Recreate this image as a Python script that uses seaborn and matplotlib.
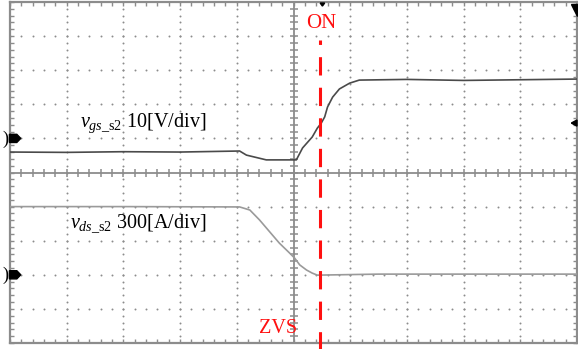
import numpy as np
import pandas as pd
import matplotlib
matplotlib.use("Agg")
import matplotlib.pyplot as plt
from matplotlib.patches import Polygon
import seaborn as sns

# Gate-source voltage of S2 (V) versus time (divisions)
t_gs = [0.00, 1.00, 2.00, 3.00, 4.05, 4.17, 4.37, 4.52, 5.05, 5.16, 5.33, 5.42,
        5.49, 5.55, 5.60, 5.69, 5.81, 5.99, 6.16, 7.00, 8.00, 9.00, 10.00]
v_gs = [-4.0, -4.1, -3.9, -4.0, -3.7, -4.9, -5.7, -6.3, -6.3, -2.8, 0.4, 3.0,
        4.5, 6.3, 9.2, 12.1, 14.5, 16.2, 17.1, 17.3, 17.0, 17.2, 17.4]

# Drain-source voltage of S2 (V) versus time (divisions)
t_ds = [0.00, 2.00, 4.05, 4.23, 4.40, 4.58, 4.75, 4.93, 5.02, 5.11, 5.23, 5.33,
        5.42, 6.50, 8.00, 10.00]
v_ds = [600, 600, 597, 570, 483, 378, 279, 192, 147, 87, 42, 15, -3, 6, 6, 6]

# Channel settings: volts per division and ground level (division)
gs_scale, gs_ground = 10.0, 6.0
ds_scale, ds_ground = 300.0, 2.0

t_on = 5.46  # turn-on instant (divisions)

label_gs = r"$v_{gs\_\mathrm{s2}}$ 10[V/div]"
label_ds = r"$v_{ds\_\mathrm{s2}}$ 300[A/div]"

sns.set_style("white")
plt.rcParams["font.family"] = ["Liberation Serif", "DejaVu Serif"]
plt.rcParams["mathtext.fontset"] = "custom"
plt.rcParams["mathtext.rm"] = "Liberation Serif"
plt.rcParams["mathtext.it"] = "Liberation Serif:italic"

fig = plt.figure(figsize=(5.78, 3.49), dpi=100)
ax = fig.add_axes([10 / 578, 6 / 349, 567 / 578, 341 / 349])
ax.set_xlim(0, 10)
ax.set_ylim(0, 10)

grid_c = "#8c8c8c"

# dotted graticule
minor = np.round(np.arange(0, 10.001, 0.2), 3)
for k in range(1, 10):
    if k == 5:
        continue
    ax.scatter(np.full_like(minor, k), minor, s=2.0, color=grid_c, lw=0, zorder=1)
    ax.scatter(minor, np.full_like(minor, k), s=2.0, color=grid_c, lw=0, zorder=1)

# center crosshair with tick marks
ax.axhline(5, color=grid_c, lw=1.3, zorder=1)
ax.axvline(5, color=grid_c, lw=1.3, zorder=1)
ax.plot(minor, np.full_like(minor, 5), ls="none", marker="|", ms=5.5,
        mew=1.1, color=grid_c, zorder=1)
ax.plot(np.full_like(minor, 5), minor, ls="none", marker="_", ms=5.5,
        mew=1.1, color=grid_c, zorder=1)

# border ticks
ax.set_xticks(minor)
ax.set_yticks(minor)
ax.tick_params(which="both", direction="in", length=3.0, width=1.0,
               color=grid_c, top=True, right=True, bottom=True, left=True,
               labelbottom=False, labelleft=False)
for sp in ax.spines.values():
    sp.set_color(grid_c)
    sp.set_linewidth(1.6)

# traces on screen coordinates
gs_df = pd.DataFrame({"t": t_gs, "div": np.array(v_gs) / gs_scale + gs_ground})
ds_df = pd.DataFrame({"t": t_ds, "div": np.array(v_ds) / ds_scale + ds_ground})
sns.lineplot(data=gs_df, x="t", y="div", ax=ax, color="#4a4a4a", lw=1.2,
             estimator=None, sort=False, zorder=3)
sns.lineplot(data=ds_df, x="t", y="div", ax=ax, color="#9a9a9a", lw=1.2,
             estimator=None, sort=False, zorder=3)
ax.set_xlabel("")
ax.set_ylabel("")

# turn-on marker
ax.plot([t_on, t_on], [-0.25, 8.9], color="#ff1010", lw=2.2,
        dashes=(6, 4), clip_on=False, zorder=4)
ax.text(t_on + 0.03, 9.37, "ON", color="#ff1010", fontsize=15,
        ha="center", va="center")
ax.text(4.73, 0.42, "ZVS", color="#ff1010", fontsize=14.5,
        ha="center", va="center")

# channel labels
ax.text(1.23, 6.33, label_gs, fontsize=14.5, ha="left", va="baseline",
        color="black")
ax.text(1.06, 3.37, label_ds, fontsize=14.5, ha="left", va="baseline",
        color="black")

# channel ground indicators on the left edge
for g in (gs_ground, ds_ground):
    pts = [(-0.01, g + 0.12), (0.12, g + 0.12), (0.19, g), (0.12, g - 0.12),
           (-0.01, g - 0.12)]
    ax.add_patch(Polygon(pts, closed=True, color="black", clip_on=False,
                         zorder=5))
    ax.text(-0.03, g - 0.02, ")", fontsize=13, ha="right", va="center",
            color="black", clip_on=False)

# trigger position and level indicators
ax.add_patch(Polygon([(9.9, 9.95), (10.0, 9.95), (10.0, 9.6)], closed=True,
                     color="black", clip_on=False, zorder=5))
ax.add_patch(Polygon([(10.0, 6.54), (10.0, 6.36), (9.9, 6.45)], closed=True,
                     color="black", clip_on=False, zorder=5))
ax.add_patch(Polygon([(5.47, 9.97), (5.55, 9.97), (5.51, 9.88)], closed=True,
                     color="black", clip_on=False, zorder=5))

fig.savefig("out.png", dpi=100)
